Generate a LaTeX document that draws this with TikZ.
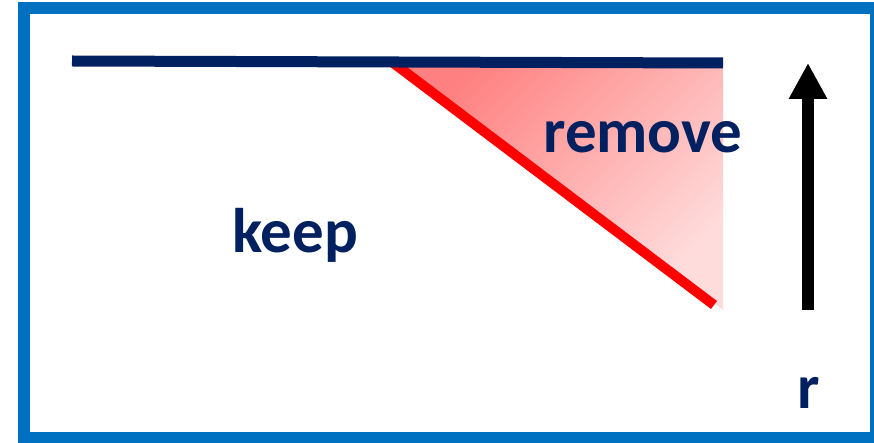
\documentclass[tikz,border=0pt]{standalone}
\usepackage{fontspec}
\setmainfont{Carlito}
\usetikzlibrary{arrows.meta}

\definecolor{framecol}{RGB}{0,112,192}
\definecolor{navy}{RGB}{0,32,96}
\definecolor{pinkdark}{RGB}{255,128,128}
\definecolor{pinklight}{RGB}{255,220,220}

\begin{document}
\begin{tikzpicture}[
    x=1pt, y=-1pt,
    lbl/.style={anchor=base, text=navy, inner sep=0pt,
                font=\fontsize{63}{70}\selectfont\bfseries},
  ]
  \useasboundingbox (0,0) rectangle (874,443);

  %% Frame
  \draw[framecol, line width=12pt] (24,8.5) rectangle (876,438);

  %% Points of the cut
  \coordinate (lineL) at (72,61);
  \coordinate (lineR) at (723,63);
  \coordinate (cutT)  at (392,62);
  \coordinate (cutB)  at (714,305);
  \coordinate (fillB) at (723,310);

  %% Removed wedge
  \shade[left color=pinkdark, right color=pinklight, shading angle=45]
    (cutT) -- (lineR) -- (fillB) -- cycle;

  %% Cut line
  \draw[red, line width=10pt] (cutT) -- (cutB);

  %% Top line
  \draw[navy, line width=11pt] (lineL) -- (lineR);

  %% Direction of r
  \coordinate (rfoot) at (808,310);
  \coordinate (rhead) at (808,63);
  \draw[line width=12pt, -{Triangle[width=36pt,length=36pt]}] (rfoot) -- (rhead);

  %% Labels
  \node[lbl] (remove) at (643,153) {remove};
  \node[lbl] (keep) at (295,253) {keep};
  \node[lbl] (rlbl) at (809,408) {r};
\end{tikzpicture}
\end{document}
